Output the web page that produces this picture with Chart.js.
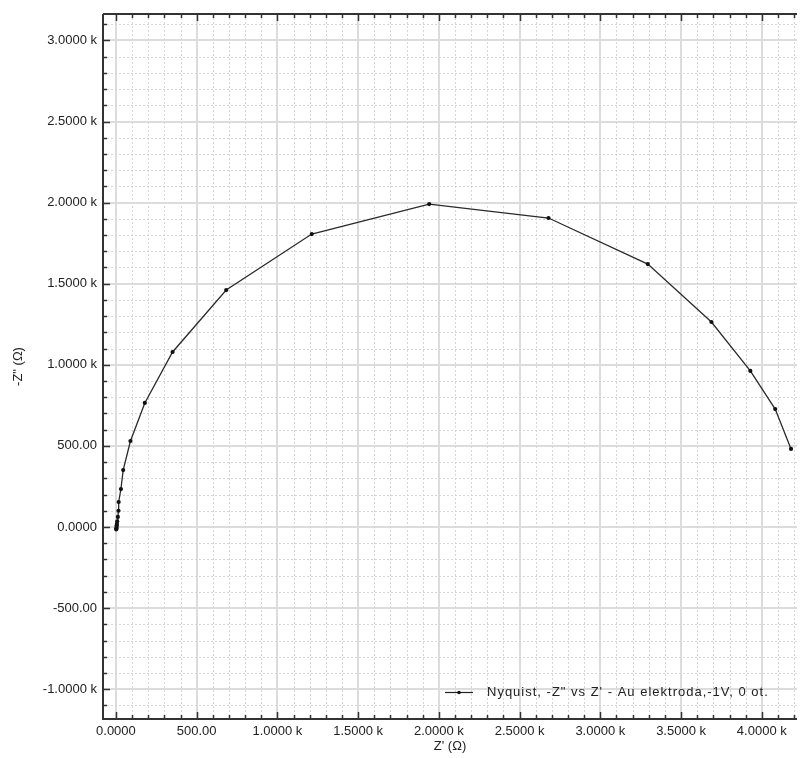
<!DOCTYPE html>
<html>
<head>
<meta charset="utf-8">
<script src="https://cdn.jsdelivr.net/npm/chart.js@4.4.0/dist/chart.umd.min.js"></script>
<style>
  html, body { margin: 0; padding: 0; background: #fff; }
  #wrap { width: 801px; height: 758px; }
</style>
</head>
<body>
<div id="wrap"><canvas id="nyquist"></canvas></div>
<script>
// Nyquist data (Ohm), high frequency -> low frequency
const zReal = [2, 3, 4, 5, 6, 8, 12, 16, 17, 31, 45, 90, 179, 351, 683, 1213, 1940, 2679, 3294, 3688, 3929, 4083, 4181];
const zImag = [-15, -8, 0, 10, 20, 35, 62, 100, 154, 234, 351, 530, 765, 1079, 1461, 1806, 1991, 1905, 1621, 1264, 962, 727, 481];

const seriesLabel = 'Nyquist, -Z" vs Z\' - Au elektroda,-1V, 0 ot.';
const xTitle = "Z' (\u03A9)";
const yTitle = '-Z" (\u03A9)';

const xTicks = [0, 500, 1000, 1500, 2000, 2500, 3000, 3500, 4000];
const xTickLabels = ['0.0000', '500.00', '1.0000 k', '1.5000 k', '2.0000 k', '2.5000 k', '3.0000 k', '3.5000 k', '4.0000 k'];
const yTicks = [-1000, -500, 0, 500, 1000, 1500, 2000, 2500, 3000];
const yTickLabels = ['-1.0000 k', '-500.00', '0.0000', '500.00', '1.0000 k', '1.5000 k', '2.0000 k', '2.5000 k', '3.0000 k'];

const xRange = [-80, 4218];
const yRange = [-1184, 3163];
const majorStep = 500;
const minorStep = 100;

const FONT = "'Liberation Sans', Arial, sans-serif";

// ========================================
// minor dotted grid, inward tick marks, frame, legend
// ========================================
const axisDecor = {
    id: 'axisDecor',
    beforeDatasetsDraw(chart) {
        const { ctx, chartArea: a, scales: { x, y } } = chart;
        ctx.save();
        ctx.strokeStyle = '#d6d6d6';
        ctx.lineWidth = 1;
        ctx.setLineDash([2, 2]);
        for (let v = Math.ceil(x.min / minorStep) * minorStep; v <= x.max; v += minorStep) {
            if (v % majorStep === 0) continue;
            const px = Math.round(x.getPixelForValue(v)) + 0.5;
            ctx.beginPath(); ctx.moveTo(px, a.top); ctx.lineTo(px, a.bottom); ctx.stroke();
        }
        for (let v = Math.ceil(y.min / minorStep) * minorStep; v <= y.max; v += minorStep) {
            if (v % majorStep === 0) continue;
            const py = Math.round(y.getPixelForValue(v)) + 0.5;
            ctx.beginPath(); ctx.moveTo(a.left, py); ctx.lineTo(a.right, py); ctx.stroke();
        }
        ctx.restore();
    },
    afterDraw(chart) {
        const { ctx, chartArea: a, scales: { x, y } } = chart;
        ctx.save();
        ctx.strokeStyle = '#333';
        ctx.lineWidth = 2;
        ctx.beginPath();
        ctx.moveTo(a.left, a.top); ctx.lineTo(a.right, a.top);
        ctx.moveTo(a.left, a.top); ctx.lineTo(a.left, a.bottom);
        ctx.lineTo(a.right, a.bottom);
        ctx.stroke();

        ctx.lineWidth = 1.5;
        ctx.beginPath();
        for (let v = Math.ceil(x.min / minorStep) * minorStep; v <= x.max; v += minorStep) {
            const len = v % majorStep === 0 ? 7 : 4;
            const px = Math.round(x.getPixelForValue(v)) + 0.5;
            ctx.moveTo(px, a.bottom); ctx.lineTo(px, a.bottom - len);
            ctx.moveTo(px, a.top); ctx.lineTo(px, a.top + len);
        }
        for (let v = Math.ceil(y.min / minorStep) * minorStep; v <= y.max; v += minorStep) {
            const len = v % majorStep === 0 ? 7 : 4;
            const py = Math.round(y.getPixelForValue(v)) + 0.5;
            ctx.moveTo(a.left, py); ctx.lineTo(a.left + len, py);
        }
        ctx.stroke();

        // legend inside plot, bottom right
        const ly = 692;
        ctx.strokeStyle = '#222';
        ctx.lineWidth = 1.2;
        ctx.beginPath(); ctx.moveTo(445, ly + 0.5); ctx.lineTo(473, ly + 0.5); ctx.stroke();
        ctx.fillStyle = '#111';
        ctx.beginPath(); ctx.arc(459, ly + 0.5, 1.8, 0, Math.PI * 2); ctx.fill();
        ctx.fillStyle = '#222';
        ctx.font = '13px ' + FONT;
        ctx.letterSpacing = '1px';
        ctx.textBaseline = 'middle';
        ctx.textAlign = 'left';
        ctx.fillText(chart.data.datasets[0].label, 487, ly);
        ctx.restore();
    }
};

document.addEventListener('DOMContentLoaded', function () {
    const ctx = document.getElementById('nyquist').getContext('2d');

    new Chart(ctx, {
        type: 'scatter',
        data: {
            datasets: [{
                label: seriesLabel,
                data: zReal.map((v, i) => ({ x: v, y: zImag[i] })),
                showLine: true,
                borderColor: '#2a2a2a',
                borderWidth: 1.3,
                pointRadius: 2.1,
                pointBackgroundColor: '#111',
                pointBorderWidth: 0,
                tension: 0
            }]
        },
        options: {
            responsive: true,
            maintainAspectRatio: false,
            animation: false,
            layout: { padding: { top: 14, right: 0, left: 0, bottom: 0 } },
            plugins: {
                legend: { display: false },
                tooltip: { enabled: false }
            },
            scales: {
                x: {
                    type: 'linear',
                    min: xRange[0],
                    max: xRange[1],
                    afterBuildTicks: s => { s.ticks = xTicks.map(v => ({ value: v })); },
                    grid: { color: '#dcdcdc', lineWidth: 2, drawTicks: false },
                    border: { display: false },
                    ticks: {
                        color: '#222',
                        padding: 5,
                        maxRotation: 0,
                        autoSkip: false,
                        font: { family: FONT, size: 13 },
                        callback: (v, i) => xTickLabels[xTicks.indexOf(v)]
                    },
                    title: {
                        display: true,
                        text: xTitle,
                        color: '#222',
                        padding: { top: -2, bottom: 4 },
                        font: { family: FONT, size: 13 }
                    },
                    afterFit: s => { s.height = 39; }
                },
                y: {
                    type: 'linear',
                    min: yRange[0],
                    max: yRange[1],
                    afterBuildTicks: s => { s.ticks = yTicks.map(v => ({ value: v })); },
                    grid: { color: '#dcdcdc', lineWidth: 2, drawTicks: false },
                    border: { display: false },
                    ticks: {
                        color: '#222',
                        padding: 6,
                        autoSkip: false,
                        font: { family: FONT, size: 13 },
                        callback: (v, i) => yTickLabels[yTicks.indexOf(v)]
                    },
                    title: {
                        display: true,
                        text: yTitle,
                        color: '#222',
                        padding: { top: 11, bottom: 0 },
                        font: { family: FONT, size: 13 }
                    },
                    afterFit: s => { s.width = 103; }
                }
            }
        },
        plugins: [axisDecor]
    });
});
</script>
</body>
</html>
